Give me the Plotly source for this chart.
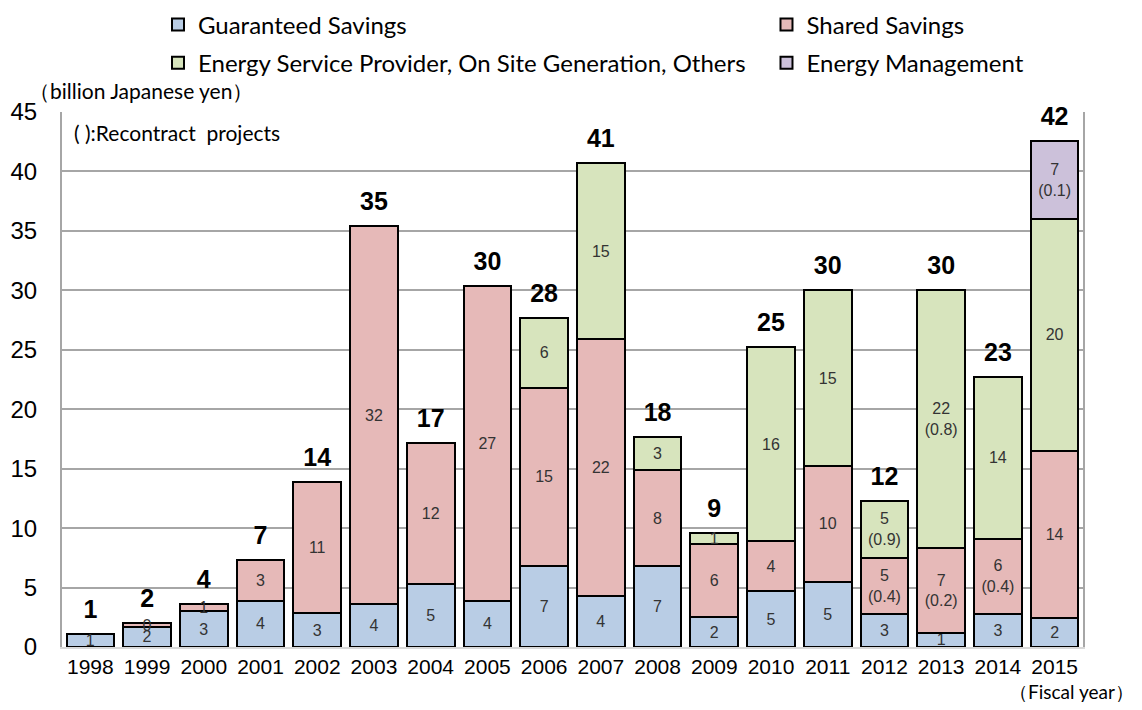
import plotly.graph_objects as go

years = ["1998", "1999", "2000", "2001", "2002", "2003", "2004", "2005", "2006",
         "2007", "2008", "2009", "2010", "2011", "2012", "2013", "2014", "2015"]

guaranteed = [1.1, 1.7, 3.0, 3.9, 2.85, 3.6, 5.3, 3.9, 6.8, 4.3, 6.8, 2.5, 4.7, 5.5, 2.8, 1.2, 2.8, 2.4]
shared = [None, 0.3, 0.6, 3.4, 11.0, 31.8, 11.9, 26.5, 15.0, 21.6, 8.1, 6.2, 4.2, 9.7, 4.7, 7.1, 6.3, 14.1]
esp = [None, None, None, None, None, None, None, None, 5.9, 14.8, 2.8, 0.9, 16.3, 14.8, 4.8, 21.7, 13.65, 19.5]
mgmt = [None] * 17 + [6.6]

guaranteed_lbl = ["1", "2", "3", "4", "3", "4", "5", "4", "7", "4", "7", "2", "5", "5", "3", "1", "3", "2"]
shared_lbl = ["", "0", "1", "3", "11", "32", "12", "27", "15", "22", "8", "6", "4", "10",
              "5<br>(0.4)", "7<br>(0.2)", "6<br>(0.4)", "14"]
esp_lbl = ["", "", "", "", "", "", "", "", "6", "15", "3", "1", "16", "15",
           "5<br>(0.9)", "22<br>(0.8)", "14", "20"]
mgmt_lbl = [""] * 17 + ["7<br>(0.1)"]
total_lbl = ["1", "2", "4", "7", "14", "35", "17", "30", "28", "41", "18", "9", "25", "30", "12", "30", "23", "42"]

series = [
    ("Guaranteed Savings", guaranteed, guaranteed_lbl, "#b9cde5", "legend"),
    ("Shared Savings", shared, shared_lbl, "#e6b9b8", "legend2"),
    ("Energy Service Provider, On Site Generation, Others", esp, esp_lbl, "#d7e4bd", "legend"),
    ("Energy Management", mgmt, mgmt_lbl, "#ccc1da", "legend2"),
]

fig = go.Figure()
for i, (name, vals, lbl, col, lg) in enumerate(series):
    fig.add_trace(go.Bar(
        x=years, y=vals, name=name, text=lbl,
        marker=dict(color=col, line=dict(color="black", width=2)),
        textposition="inside", insidetextanchor="middle", textangle=0,
        constraintext="none",
        textfont=dict(family="Liberation Sans, Arial", size=16, color="#333333"),
        legend=lg, legendgroup=name,
        hoverinfo="skip",
    ))

totals = [sum(v[i] or 0 for _, v, _, _, _ in series) for i in range(len(years))]
fig.add_trace(go.Scatter(
    x=years, y=totals, mode="markers+text", text=["<b>%s</b>" % t for t in total_lbl],
    textposition="top center", showlegend=False, hoverinfo="skip", cliponaxis=False,
    marker=dict(size=14, color="rgba(0,0,0,0)"),
    textfont=dict(family="Liberation Sans, Arial", size=25, color="black"),
))

fig.add_annotation(xref="paper", yref="paper", x=-0.034, y=1.0, xanchor="left", yanchor="bottom",
                   yshift=7, text="（billion Japanese yen）", showarrow=False,
                   font=dict(family="Lato", size=21, color="black"))
fig.add_annotation(xref="paper", yref="paper", x=0.01, y=0.995, xanchor="left", yanchor="top",
                   yshift=-3, text="( ):Recontract  projects", showarrow=False,
                   font=dict(family="Lato", size=21, color="black"))
fig.add_annotation(xref="paper", yref="paper", x=1.052, y=0, xanchor="right", yanchor="top",
                   yshift=-31, text="（Fiscal year）", showarrow=False,
                   font=dict(family="Lato", size=19, color="black"))

fig.update_layout(
    width=1126, height=694,
    barmode="stack", bargap=0.16,
    plot_bgcolor="white", paper_bgcolor="white",
    margin=dict(l=54, r=51, t=104, b=55, autoexpand=False),
    font=dict(family="Liberation Sans, Arial", color="black"),
    legend=dict(x=0.094, y=1.205, xanchor="left", yanchor="top", orientation="v",
                tracegroupgap=4, font=dict(family="Lato", size=24, color="black"),
                bgcolor="rgba(0,0,0,0)"),
    legend2=dict(x=0.690, y=1.205, xanchor="left", yanchor="top", orientation="v",
                 tracegroupgap=4, font=dict(family="Lato", size=24, color="black"),
                 bgcolor="rgba(0,0,0,0)"),
    xaxis=dict(type="category", range=[-0.5, 17.5], showgrid=False, showline=True,
               linecolor="#d9d9d9", linewidth=2,
               ticks="", tickfont=dict(size=21, color="black"), mirror=False),
    yaxis=dict(range=[0, 45], dtick=5, showgrid=True, gridcolor="#a6a6a6", gridwidth=2,
               showline=True, linecolor="#a6a6a6", linewidth=2, mirror=True,
               ticks="", ticklabelstandoff=18, zeroline=False,
               tickfont=dict(size=24, color="black")),
)

fig.write_html("out.html")
